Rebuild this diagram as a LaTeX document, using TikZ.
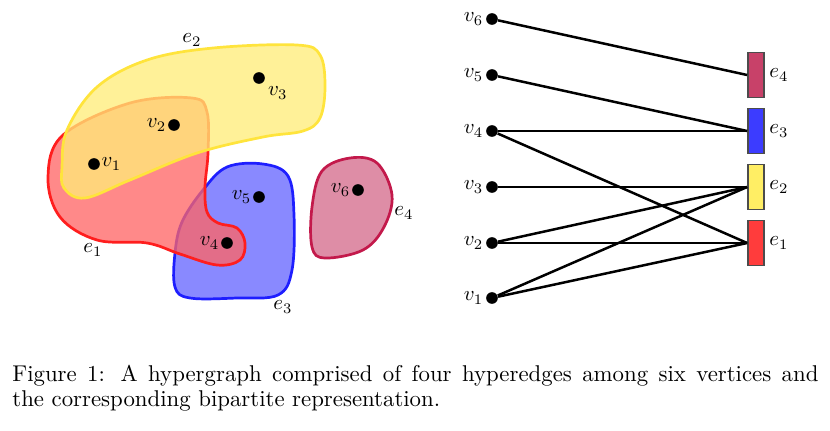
\documentclass[tikz,border=0pt]{standalone}
\definecolor{redline}{RGB}{255,30,30}
\definecolor{redfill}{RGB}{255,100,100}
\definecolor{blueline}{RGB}{30,30,255}
\definecolor{bluefill}{RGB}{100,100,255}
\definecolor{yelline}{RGB}{255,228,60}
\definecolor{yelfill}{RGB}{255,236,120}
\definecolor{pinkline}{RGB}{195,25,75}
\definecolor{pinkfill}{RGB}{212,105,138}
\definecolor{boxred}{RGB}{255,60,60}
\definecolor{boxyel}{RGB}{255,238,100}
\definecolor{boxblue}{RGB}{60,60,255}
\definecolor{boxpink}{RGB}{200,65,105}
\begin{document}
\begin{tikzpicture}[x=0.48pt,y=-0.48pt,
  dot/.style={circle,fill=black,inner sep=0pt,minimum size=5.6pt},
  hedge/.style={line width=1.3pt,fill opacity=0.76},
  link/.style={line width=1.2pt},
  ebox/.style={draw=black!70,line width=0.8pt,minimum width=7.7pt,minimum height=21.6pt,inner sep=0pt}]
\useasboundingbox (0,0) rectangle (830,430);
% hyperedges (left)
\filldraw[hedge,draw=blueline,fill=bluefill] plot[smooth cycle,tension=0.6] coordinates {(227,167) (263,164) (288,176) (294,215) (292,270) (278,295) (237,298) (190,298) (175,287) (175,253) (182,222) (203,190)};
\filldraw[hedge,draw=redline,fill=redfill] plot[smooth cycle,tension=0.6] coordinates {(63,135) (130,103) (192,98) (207,112) (208,153) (205,187) (207,212) (218,223) (237,228) (245,243) (240,260) (217,265) (180,254) (147,243) (97,240) (60,217) (48,177)};
\filldraw[hedge,draw=yelline,fill=yelfill] plot[smooth cycle,tension=0.6] coordinates {(62,167) (67,130) (97,87) (147,60) (213,48) (297,45) (320,55) (325,87) (320,118) (303,131) (263,137) (197,153) (130,180) (85,198) (64,188)};
\filldraw[hedge,draw=pinkline,fill=pinkfill] plot[smooth cycle,tension=0.6] coordinates {(350,158) (377,163) (392,195) (384,227) (363,250) (325,258) (312,247) (312,207) (322,171)};
% vertices (left)
\node[dot,label={[inner sep=0.5pt]right:$v_1$}] (a1) at (94,164) {};
\node[dot,label={[inner sep=2pt]below right:$v_3$}] (a3) at (259,78) {};
\node[dot,label={[inner sep=0.5pt]left:$v_2$}] (a2) at (174,125) {};
\node[dot,label={[inner sep=0.5pt]left:$v_4$}] (a4) at (227,243) {};
\node[dot,label={[inner sep=0.5pt]left:$v_5$}] (a5) at (259,197) {};
\node[dot,label={[inner sep=0.5pt]left:$v_6$}] (a6) at (358,190) {};
\node (le2) at (192,40) {$e_2$};
\node (le1) at (93,250) {$e_1$};
\node (le3) at (283,307) {$e_3$};
\node (le4) at (404,213) {$e_4$};
% bipartite (right)
\node[dot,label={[inner sep=1pt]left:$v_6$}] (b6) at (492,19) {};
\node[dot,label={[inner sep=1pt]left:$v_5$}] (b5) at (492,75) {};
\node[dot,label={[inner sep=1pt]left:$v_4$}] (b4) at (492,131) {};
\node[dot,label={[inner sep=1pt]left:$v_3$}] (b3) at (492,187) {};
\node[dot,label={[inner sep=1pt]left:$v_2$}] (b2) at (492,243) {};
\node[dot,label={[inner sep=1pt]left:$v_1$}] (b1) at (492,298) {};
\node[ebox,fill=boxpink,label={[inner sep=2pt]right:$e_4$}] (f4) at (756,75) {};
\node[ebox,fill=boxblue,label={[inner sep=2pt]right:$e_3$}] (f3) at (756,131) {};
\node[ebox,fill=boxyel,label={[inner sep=2pt]right:$e_2$}] (f2) at (756,187) {};
\node[ebox,fill=boxred,label={[inner sep=2pt]right:$e_1$}] (f1) at (756,243) {};
\draw[link] (b6) -- (f4.west);
\draw[link] (b5) -- (f3.west);
\draw[link] (b4) -- (f3.west);
\draw[link] (b4) -- (f1.west);
\draw[link] (b3) -- (f2.west);
\draw[link] (b2) -- (f2.west);
\draw[link] (b2) -- (f1.west);
\draw[link] (b1) -- (f2.west);
\draw[link] (b1) -- (f1.west);
% caption
\node[anchor=north west,inner sep=0pt,text width=386.9pt,align=justify,font=\fontsize{10.95}{12}\selectfont] (cap) at (12,365) {Figure 1: A hypergraph comprised of four hyperedges among six vertices and\linebreak the corresponding bipartite representation.};
\end{tikzpicture}
\end{document}
